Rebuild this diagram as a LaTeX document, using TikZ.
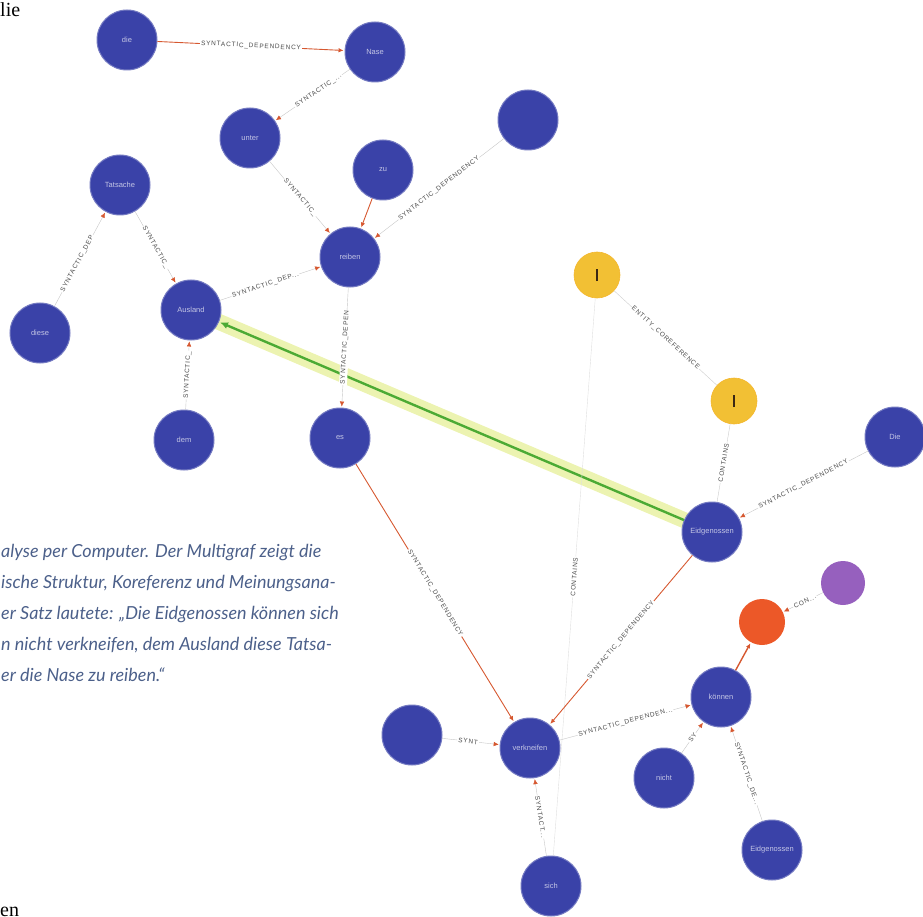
\documentclass[tikz,border=0pt]{standalone}
\usepackage{fontspec}
\setmainfont{Liberation Serif}
\newfontfamily\capfont{Lato}
\newfontfamily\lblfont{Liberation Sans}[LetterSpace=12]
\newfontfamily\tokfont{Liberation Sans}
\usetikzlibrary{arrows.meta,backgrounds}
\definecolor{nodeblue}{RGB}{58,66,168}
\definecolor{nodeyellow}{RGB}{242,192,52}
\definecolor{nodeorange}{RGB}{236,88,40}
\definecolor{nodepurple}{RGB}{150,96,190}
\definecolor{edgeorange}{RGB}{214,88,48}
\definecolor{capblue}{RGB}{76,96,138}
\definecolor{halocol}{RGB}{234,242,168}
\definecolor{greenedge}{RGB}{76,170,52}
\definecolor{iconbrown}{RGB}{60,40,20}
\tikzset{
  tok/.style={circle, fill=nodeblue, draw=nodeblue!70!white, line width=1pt,
    minimum size=60pt, inner sep=0pt, font=\tokfont\fontsize{7.5}{8}\selectfont,
    text=white!70!nodeblue},
  ent/.style={circle, fill=nodeyellow, draw=nodeyellow!85!orange, line width=0.6pt,
    minimum size=46pt, inner sep=0pt},
  opn/.style={circle, fill=nodeorange, minimum size=46pt, inner sep=0pt},
  pur/.style={circle, fill=nodepurple, minimum size=44pt, inner sep=0pt},
  rel/.style={draw=gray!45, line width=0.4pt, shorten >=1pt,
    -{Latex[length=5pt,width=4.5pt,color=edgeorange]}},
  relo/.style={draw=edgeorange, line width=0.9pt, shorten >=1pt,
    -{Latex[length=5pt,width=4.5pt]}},
  plainrel/.style={draw=gray!40, line width=0.4pt},
  elab/.style={font=\lblfont\fontsize{6.5}{7}\selectfont, text=gray!60!black,
    fill=white, inner sep=1pt, sloped},
  captext/.style={anchor=base west, font=\capfont\itshape\fontsize{18}{19}\selectfont,
    text=capblue, inner sep=0pt},
  seriftext/.style={anchor=base west, font=\fontsize{20}{21}\selectfont, inner sep=0pt}
}
\newcommand{\enticon}{\textcolor{iconbrown}{\rule[-6pt]{2.5pt}{12pt}}}
\begin{document}
\begin{tikzpicture}[x=1pt,y=-1pt]
\useasboundingbox (0,0) rectangle (923,917);

% token nodes
\node[tok] (die) at (127,40) {die};
\node[tok] (nase) at (375,52) {Nase};
\node[tok] (unter) at (250,138) {unter};
\node[tok] (zu) at (383,170) {zu};
\node[tok] (pt) at (528,120) {};
\node[tok] (tats) at (120,185) {Tatsache};
\node[tok] (reiben) at (350,257) {reiben};
\node[tok] (diese) at (40,333) {diese};
\node[tok] (ausl) at (191,310) {Ausland};
\node[tok] (dem) at (184,440) {dem};
\node[tok] (es) at (340,438) {es};
\node[ent] (e1) at (597,275) {\enticon};
\node[ent] (e2) at (734,401) {\enticon};
\node[tok] (Die) at (895,437) {Die};
\node[tok] (eid) at (712,532) {Eidgenossen};
\node[pur] (pu) at (843,583) {};
\node[opn] (op) at (762,622) {};
\node[tok] (koen) at (721,697) {können};
\node[tok] (kom) at (412,735) {};
\node[tok] (verk) at (530,748) {verkneifen};
\node[tok] (nicht) at (664,778) {nicht};
\node[tok] (eid2) at (772,850) {Eidgenossen};
\node[tok] (sich) at (551,886) {sich};

% highlighted opinion edge
\begin{scope}[on background layer]
\draw[halocol, line width=16pt, opacity=0.9] (eid.center) -- (ausl.center);
\end{scope}
\draw[greenedge, line width=2.4pt, shorten >=1pt, -{Latex[length=8pt,width=7pt]}] (eid) -- (ausl);

% edges
\draw[relo] (die) -- node[elab, pos=0.5] {SYNTACTIC\_DEPENDENCY} (nase);
\draw[rel] (nase) -- node[elab, pos=0.42] {SYNTACTIC\_...} (unter);
\draw[rel] (unter) -- node[elab, pos=0.5] {SYNTACTIC\_} (reiben);
\draw[relo] (zu) -- (reiben);
\draw[rel] (pt) -- node[elab, pos=0.5] {SYNTACTIC\_DEPENDENCY} (reiben);
\draw[rel] (ausl) -- node[elab, pos=0.45] {SYNTACTIC\_DEP...} (reiben);
\draw[rel] (reiben) -- node[elab, pos=0.5] {SYNTACTIC\_DEPEN} (es);
\draw[rel] (diese) -- node[elab, pos=0.45] {SYNTACTIC\_DEP} (tats);
\draw[rel] (tats) -- node[elab, pos=0.5] {SYNTACTIC\_} (ausl);
\draw[rel] (dem) -- node[elab, pos=0.5] {SYNTACTIC\_} (ausl);
\draw[plainrel] (e1) -- node[elab, pos=0.5] {ENTITY\_COREFERENCE} (e2);
\draw[plainrel] (e2) -- node[elab, pos=0.5] {CONTAINS} (eid);
\draw[rel] (Die) -- node[elab, pos=0.5] {SYNTACTIC\_DEPENDENCY} (eid);
\draw[draw=gray!25, line width=0.4pt] (e1) -- node[elab, pos=0.5] {CONTAINS} (sich);
\draw[relo] (es) -- node[elab, pos=0.5] {SYNTACTIC\_DEPENDENCY} (verk);
\draw[relo] (eid) -- node[elab, pos=0.5] {SYNTACTIC\_DEPENDENCY} (verk);
\draw[rel] (kom) -- node[elab, pos=0.45] {SYNT} (verk);
\draw[rel] (sich) -- node[elab, pos=0.5] {SYNTACT...} (verk);
\draw[rel] (verk) -- node[elab, pos=0.5] {SYNTACTIC\_DEPENDEN...} (koen);
\draw[rel] (nicht) -- node[elab, pos=0.5] {SY} (koen);
\draw[rel] (eid2) -- node[elab, pos=0.5] {SYNTACTIC\_DE...} (koen);
\draw[relo, line width=1.4pt] (koen) -- (op);
\draw[rel] (pu) -- node[elab, pos=0.45] {CON...} (op);

% caption and surrounding text
\node[captext] (c1) at (1,557) {alyse per Computer. Der Multigraf zeigt die};
\node[captext] (c2) at (1,588) {ische Struktur, Koreferenz und Meinungsana-};
\node[captext] (c3) at (1,619) {er Satz lautete: „Die Eidgenossen können sich};
\node[captext] (c4) at (1,650) {n nicht verkneifen, dem Ausland diese Tatsa-};
\node[captext] (c5) at (1,681) {er die Nase zu reiben.“};
\node[seriftext] (t1) at (0,17) {lie};
\node[seriftext] (t2) at (0,916) {en};
\end{tikzpicture}
\end{document}
